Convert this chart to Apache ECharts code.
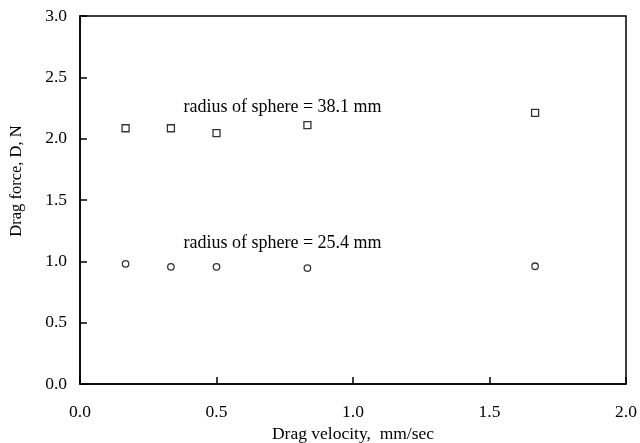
<!DOCTYPE html>
<html>
<head>
<meta charset="utf-8">
<script src="https://cdn.jsdelivr.net/npm/echarts@6/dist/echarts.min.js"></script>
<style>html,body{margin:0;padding:0;background:#fff}#c{width:640px;height:443px}</style>
</head>
<body>
<div id="c"></div>
<script>
const velocity = [0.167, 0.333, 0.5, 0.833, 1.667];
const force381 = [2.085, 2.085, 2.045, 2.11, 2.21];
const force254 = [0.98, 0.955, 0.955, 0.945, 0.96];
const xTicks = ['0.0', '0.5', '1.0', '1.5', '2.0'];
const yTicks = ['0.0', '0.5', '1.0', '1.5', '2.0', '2.5', '3.0'];
const label381 = 'radius of sphere = 38.1 mm';
const label254 = 'radius of sphere = 25.4 mm';

const FONT = "'Liberation Serif', 'Times New Roman', serif";
const chart = echarts.init(document.getElementById('c'), null, {renderer: 'canvas'});
const axisCommon = {
  type: 'value', min: 0, interval: 0.5,
  axisLine: {show: true, lineStyle: {color: '#000', width: 1.5}},
  axisTick: {show: true, inside: true, length: 7, lineStyle: {color: '#000', width: 1.5}},
  splitLine: {show: false},
  nameLocation: 'middle',
  nameTextStyle: {fontFamily: FONT, fontSize: 17.5, color: '#000'},
  axisLabel: {fontFamily: FONT, fontSize: 17.5, color: '#000'}
};
chart.setOption({
  animation: false,
  backgroundColor: '#fff',
  grid: {left: 80, right: 14, top: 16, bottom: 59, show: true, borderColor: '#000', borderWidth: 1.5,
         containLabel: false, outerBoundsMode: 'none'},
  xAxis: Object.assign({}, axisCommon, {
    max: 2.0, name: 'Drag velocity,  mm/sec', nameGap: 39,
    axisLabel: Object.assign({}, axisCommon.axisLabel, {margin: 19, formatter: v => xTicks[Math.round(v / 0.5)]})
  }),
  yAxis: Object.assign({}, axisCommon, {
    max: 3.0, name: 'Drag force, D, N', nameGap: 55, nameRotate: 90,
    nameTextStyle: {fontFamily: FONT, fontSize: 16.5, color: '#000', padding: [0, 0, 0, 38]},
    axisLabel: Object.assign({}, axisCommon.axisLabel, {margin: 13, formatter: v => yTicks[Math.round(v / 0.5)]})
  }),
  series: [
    {
      type: 'scatter', symbol: 'rect', symbolSize: 7,
      itemStyle: {color: '#fff', borderColor: '#000', borderWidth: 1.3},
      data: velocity.map((v, i) => [v, force381[i]]),
      markPoint: {
        symbol: 'circle', symbolSize: 0,
        label: {show: true, formatter: label381, fontFamily: FONT, fontSize: 18, color: '#000', position: 'inside'},
        data: [{coord: [0.742, 2.26], value: 0}]
      }
    },
    {
      type: 'scatter', symbol: 'circle', symbolSize: 6.5,
      itemStyle: {color: '#fff', borderColor: '#000', borderWidth: 1.3},
      data: velocity.map((v, i) => [v, force254[i]]),
      markPoint: {
        symbol: 'circle', symbolSize: 0,
        label: {show: true, formatter: label254, fontFamily: FONT, fontSize: 18, color: '#000', position: 'inside'},
        data: [{coord: [0.742, 1.15], value: 0}]
      }
    }
  ]
});
</script>
</body>
</html>
